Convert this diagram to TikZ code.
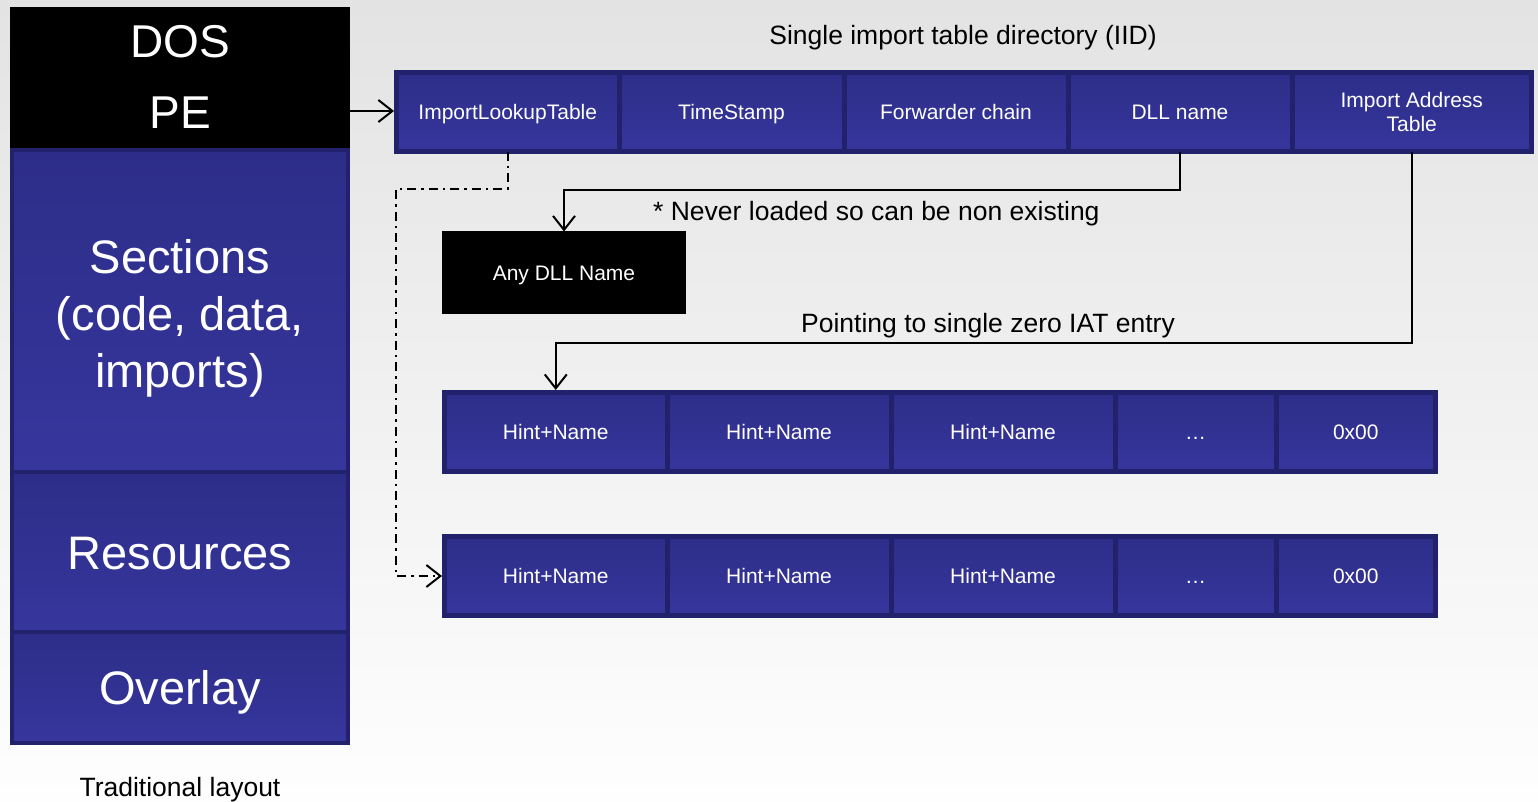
\documentclass[tikz,border=0pt]{standalone}
\usepackage{fontspec}
\setmainfont{Liberation Sans}
\usetikzlibrary{arrows.meta}

\definecolor{cellfillA}{HTML}{2D2D89}
\definecolor{cellfillB}{HTML}{36369D}
\definecolor{celledge}{HTML}{22226C}
\definecolor{bgtop}{HTML}{E3E3E3}
\definecolor{bgbottom}{HTML}{FEFEFE}

\tikzset{
  cellframe/.style={draw=celledge, line width=5pt, top color=cellfillA, bottom color=cellfillB,
    text=white, align=center, inner sep=0pt, outer sep=0pt, anchor=north west,
    font=\fontsize{21}{24}\selectfont},
  cell/.style={cellframe, text height=15pt, text depth=0pt},
  layerframe/.style={draw=celledge, line width=4pt, top color=cellfillA, bottom color=cellfillB,
    text=white, align=center, inner sep=0pt, outer sep=0pt, anchor=north west, minimum width=336pt,
    font=\fontsize{47}{57}\selectfont},
  layer/.style={layerframe, text height=34pt, text depth=0pt},
  layertext/.style={text=white, align=center, inner sep=0pt, font=\fontsize{47}{57}\selectfont},
  hdr/.style={layer, draw=black, top color=black, bottom color=black,
    font=\fontsize{46}{50}\selectfont},
  note/.style={inner sep=0pt, text=black, font=\fontsize{26.5}{30}\selectfont},
  link/.style={draw=black, line width=2pt, -{Straight Barb[length=14pt,width=22pt,line width=2pt]}},
  dashdot/.style={link, line width=2.3pt, dash pattern=on 9pt off 5pt on 2.5pt off 5pt}
}

\begin{document}
\begin{tikzpicture}[x=1pt, y=-1pt]
  % page background
  \shade[top color=bgtop, bottom color=bgbottom] (0,0) rectangle (1538,801);
  \useasboundingbox (0,0) rectangle (1538,801);

  % traditional PE file layout
  \node[hdr, minimum height=63pt] (dos) at (12,9) {DOS};
  \node[hdr, minimum height=78pt] (pe) at (12,72) {PE};
  \node[layerframe, minimum height=322pt] (sec) at (12,150) {};
  \node[layertext] (sectext) at ([yshift=-7pt]sec.center) {Sections\\(code, data,\\imports)};
  \node[layer, minimum height=160pt] (res) at (12,472) {Resources};
  \node[layer, minimum height=111pt] (ovl) at (12,632) {Overlay};
  \node[note] (trad) at (180,790) {Traditional layout};

  % import table directory entry
  \node[note] (iidtitle) at (963,38) {Single import table directory (IID)};
  \node[cell, minimum width=222.5pt, minimum height=79pt] (ilt) at (396.5,72.5) {ImportLookupTable};
  \node[cell, minimum width=225pt, minimum height=79pt] (ts)  at (619,72.5) {TimeStamp};
  \node[cell, minimum width=224pt, minimum height=79pt] (fwd) at (844,72.5) {Forwarder chain};
  \node[cell, minimum width=224pt, minimum height=79pt] (dll) at (1068,72.5) {DLL name};
  \node[cellframe, minimum width=239.5pt, minimum height=79pt] (iat) at (1292,72.5) {Import Address\\Table};

  % DLL name target
  \node[cell, draw=black, top color=black, bottom color=black, line width=1pt,
        minimum width=243pt, minimum height=82pt] (anydll) at (442.5,231.5) {Any DLL Name};
  \node[note, anchor=west] (nevernote) at (653,214) {* Never loaded so can be non existing};

  % hint/name arrays
  \node[note] (iatnote) at (988,326) {Pointing to single zero IAT entry};
  \foreach \r/\y in {1/392.5, 2/536.5} {
    \node[cell, minimum width=222.5pt, minimum height=79pt] (h\r a) at (444.5,\y) {Hint+Name};
    \node[cell, minimum width=224pt, minimum height=79pt] (h\r b) at (667,\y) {Hint+Name};
    \node[cell, minimum width=224pt, minimum height=79pt] (h\r c) at (891,\y) {Hint+Name};
    \node[cell, minimum width=161pt, minimum height=79pt] (h\r d) at (1115,\y) {…};
    \node[cell, minimum width=159.5pt, minimum height=79pt] (h\r e) at (1276,\y) {0x00};
  }

  % connectors
  \draw[link, shorten >=2.5pt] (pe.east) -- (pe.east -| ilt.west);
  \draw[link] (dll.south) -- ++(0,38.5) -| (anydll.north);
  \draw[link, shorten >=2.5pt] (iat.south) -- ++(0,191.5) -| (h1a.north);
  \coordinate (iltturn) at (396,189);
  \draw[dashdot, shorten >=2.5pt] (ilt.south) |- (iltturn) |- (h2a.west);
\end{tikzpicture}
\end{document}
